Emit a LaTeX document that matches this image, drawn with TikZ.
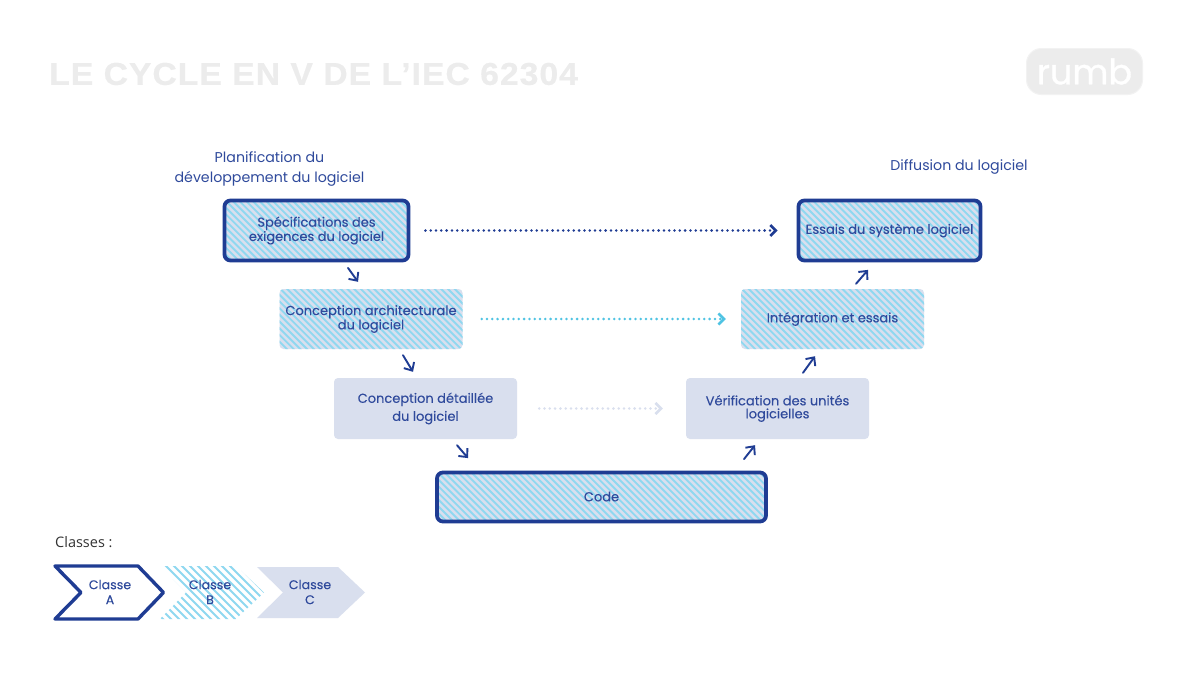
\documentclass[tikz,border=0pt]{standalone}
\usepackage{fontspec}
\setmainfont{Poppins}
\newfontfamily\boxfont{Poppins}[FakeBold=0.12]
\newfontfamily\titlefont{Liberation Sans Bold}[LetterSpace=3.2,FakeStretch=1.07,FakeBold=0.5]
\newfontfamily\logofont{Poppins}[FakeBold=1.0]
\newfontfamily\plexfont{Open Sans}
\usetikzlibrary{arrows.meta,calc}
\definecolor{navy}{HTML}{1F3C93}
\definecolor{txt}{HTML}{2F4A9C}
\definecolor{stripe}{HTML}{8FD8F0}
\definecolor{pale}{HTML}{D9DFEE}
\definecolor{sky}{HTML}{4FC3E3}
\definecolor{ghost}{HTML}{ECECEC}
\tikzset{
  x=1pt,y=-1pt,
  boxbase/.style={rounded corners=4pt,align=center,inner sep=0pt,text=txt,font=\boxfont\fontsize{13}{13}\selectfont,minimum height=60pt,minimum width=183pt},
  plainbox/.style={boxbase,fill=pale},
  hatchbox/.style={boxbase,fill=pale,path picture={
    \foreach \i in {-70,-63.3,...,400}
      \draw[stripe,line width=1.9pt] ($(path picture bounding box.north west)+(\i,-4)$) -- ++(80,80);
  }},
  classabox/.style={hatchbox,draw=navy,line width=3.8pt,rounded corners=6pt},
  stepline/.style={navy,line width=1.9pt,line cap=round,-{Straight Barb[length=6.5pt,width=12pt,line width=1.9pt]}},
  dotline/.style={line width=2.8pt,line cap=round,dash pattern=on 0pt off 5.3pt,-{Straight Barb[length=5.5pt,width=11pt,line width=2.6pt]}},
  chev/.style={text=txt,align=center,font=\boxfont\fontsize{12.6}{15}\selectfont},
  tag/.style={text=txt,align=center,font=\fontsize{14.2}{20}\selectfont},
}
\begin{document}
\begin{tikzpicture}[x=1pt,y=-1pt]
\useasboundingbox (0,0) rectangle (1200,675);
\fill[white] (0,0) rectangle (1200,675);
% header
\node[anchor=west,inner sep=0pt,text=ghost,font=\titlefont\fontsize{31.5}{36}\selectfont] (title) at (49,74) {LE CYCLE EN V DE L’IEC 62304};
\node[fill=ghost,draw=ghost!70!white,line width=1pt,rounded corners=15pt,minimum width=116pt,minimum height=46pt,inner sep=0pt,text=white,font=\logofont\fontsize{35}{36}\selectfont] (logo) at (1084.5,71.5) {rumb};
% tags
\node[tag] (plan) at (269.5,168.5) {Planification du\\développement du logiciel};
\node[tag] (diff) at (959,167) {Diffusion du logiciel};
% V boxes
\node[classabox,minimum width=184pt,minimum height=60pt] (spec) at (316.5,230.5) {Spécifications des\\exigences du logiciel};
\node[hatchbox] (arch) at (371,319) {Conception architecturale\\du logiciel};
\node[plainbox,font=\boxfont\fontsize{13}{18}\selectfont,minimum height=61pt] (detail) at (425.5,408.5) {Conception détaillée\\du logiciel};
\node[classabox,minimum width=329pt,minimum height=49pt] (code) at (601.5,497) {\raisebox{1pt}{Code}};
\node[plainbox,minimum height=61pt] (verif) at (777.5,408.5) {Vérification des unités\\logicielles};
\node[hatchbox] (integ) at (832.5,319) {Intégration et essais};
\node[classabox,minimum width=182pt,minimum height=60pt] (essais) at (889.5,230.5) {Essais du système logiciel};
% step arrows
\draw[stepline] ([shift={(31.5,5.5)}]spec.south) -- ([shift={(-13,-7)}]arch.north);
\draw[stepline] ([shift={(32,6)}]arch.south) -- ([shift={(-12.5,-6)}]detail.north);
\draw[stepline] ([shift={(31.5,6)}]detail.south) -- ([shift={(-133.5,-12.5)}]code.north);
\draw[stepline] ([shift={(142.5,-11.5)}]code.north) -- ([shift={(-22.5,6)}]verif.south);
\draw[stepline] ([shift={(25.5,-5)}]verif.north) -- ([shift={(-17.5,7)}]integ.south);
\draw[stepline] ([shift={(23.5,-5)}]integ.north) -- ([shift={(-21.5,7.5)}]essais.south);
% dotted arrows
\draw[dotline,navy] ([xshift=15pt]spec.east) -- ([xshift=-19pt]essais.west);
\draw[dotline,sky] ([xshift=19pt]arch.east) -- ([xshift=-15pt]integ.west);
\draw[dotline,pale] ([xshift=22pt]detail.east) -- ([xshift=-23pt]verif.west);
% legend
\node[anchor=west,inner sep=0pt,font=\plexfont\fontsize{14.5}{16}\selectfont,text=black!80] (classes) at (55,542) {Classes :};
\begin{scope}
\clip (160,566) -- (236,566) -- (264,592.5) -- (236,619) -- (160,619) -- (186,592.5) -- cycle;
\foreach \i in {-64,-56,...,130}
  \draw[stripe,line width=2.1pt] (160+\i,560) -- ++(70,70);
\end{scope}
\fill[pale] (257,567) -- (338,567) -- (365,592.5) -- (338,618) -- (257,618) -- (283,592.5) -- cycle;
\draw[navy,line width=3.4pt,line join=round] (55,566) -- (138,566) -- (163.5,592.5) -- (138,619) -- (55,619) -- (81,592.5) -- cycle;
\node[chev] (ca) at (110,592) {Classe\\A};
\node[chev] (cb) at (210,592) {Classe\\B};
\node[chev] (cc) at (310,592) {Classe\\C};
\end{tikzpicture}
\end{document}
